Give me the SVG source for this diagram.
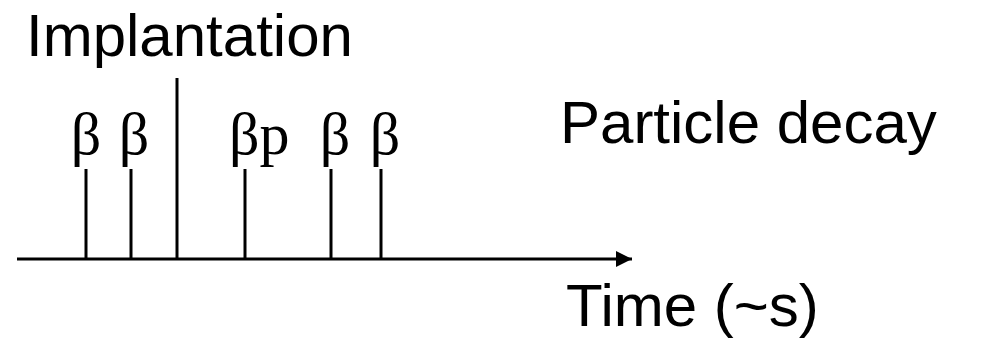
<svg xmlns="http://www.w3.org/2000/svg" width="982" height="339" viewBox="0 0 982 339">
<style>
.sans{font-family:"Liberation Sans",Arial,sans-serif;font-size:60px;fill:#000}
.serif{font-family:"Liberation Serif","Times New Roman",serif;font-size:60px;fill:#000}
.ln{stroke:#000;stroke-width:3;fill:none}
</style>
<defs>
<marker id="arr" markerUnits="userSpaceOnUse" markerWidth="18" markerHeight="16" refX="16" refY="8" orient="auto">
<path d="M0,0 L16,8 L0,16 Z" fill="#000"/>
</marker>
</defs>
<rect width="982" height="339" fill="#fff"/>
<g id="labels">
<text class="sans" x="26" y="56">Implantation</text>
<text class="sans" x="560" y="143">Particle decay</text>
<text class="sans" x="566" y="326">Time (~s)</text>
</g>
<g id="connectors">
<line class="ln" x1="17" y1="259" x2="632" y2="259" marker-end="url(#arr)"/>
<line class="ln" x1="177" y1="78" x2="177" y2="259"/>
<line class="ln" x1="86" y1="169" x2="86" y2="259"/>
<line class="ln" x1="131" y1="169" x2="131" y2="259"/>
<line class="ln" x1="245" y1="169" x2="245" y2="259"/>
<line class="ln" x1="331" y1="169" x2="331" y2="259"/>
<line class="ln" x1="381" y1="169" x2="381" y2="259"/>
</g>
<g id="events">
<text class="serif" x="86" y="154" text-anchor="middle">β</text>
<text class="serif" x="134" y="154" text-anchor="middle">β</text>
<text class="serif" x="229" y="154">βp</text>
<text class="serif" x="335" y="154" text-anchor="middle">β</text>
<text class="serif" x="385" y="154" text-anchor="middle">β</text>
</g>
</svg>
